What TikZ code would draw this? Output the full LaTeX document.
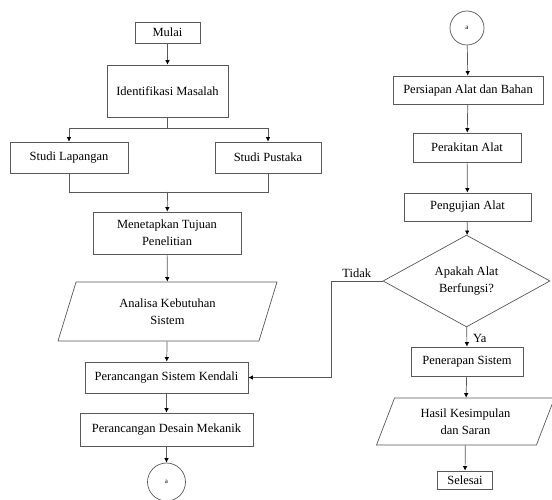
\documentclass[tikz,border=0pt]{standalone}
\usepackage{fontspec}
\setmainfont{Liberation Serif}
\usetikzlibrary{shapes.geometric,arrows.meta}

\begin{document}
\begin{tikzpicture}[x=1pt,y=-1pt,
    every node/.style={font=\fontsize{12.5}{17}\selectfont, align=center, inner sep=0pt},
    proses/.style={draw=linegray, line width=0.7pt, rectangle},
    dataio/.style={draw=linegray, line width=0.7pt, trapezium,
        trapezium left angle=55, trapezium right angle=125, trapezium stretches body},
    keputusan/.style={draw=linegray, line width=0.7pt, diamond},
    konektor/.style={draw=linegray, line width=0.7pt, circle, font=\fontsize{7}{8}\selectfont},
    panah/.style={draw=linegray, line width=0.7pt, -{Latex[length=4.5pt,width=4.5pt,color=black]}},
    garis/.style={draw=linegray, line width=0.7pt}]
    \colorlet{linegray}{black!65}

    \useasboundingbox[fill=white] (0,0) rectangle (552,500);

    % left column
    \node[proses, minimum width=65, minimum height=21] (mulai) at (167.5,32.5) {Mulai};
    \node[proses, minimum width=121, minimum height=52] (identifikasi) at (167.5,91) {Identifikasi Masalah};
    \node[proses, minimum width=118, minimum height=31] (lapangan) at (69,157.5) {Studi Lapangan};
    \node[proses, minimum width=106, minimum height=31] (pustaka) at (268,157.5) {Studi Pustaka};
    \node[proses, minimum width=148, minimum height=42] (tujuan) at (167,233) {Menetapkan Tujuan\\Penelitian};
    \node[dataio, minimum width=219, minimum height=59] (analisa) at (167.5,311.5) {Analisa Kebutuhan\\Sistem};
    \node[proses, minimum width=163, minimum height=31] (kendali) at (166.5,377.5) {Perancangan Sistem Kendali};
    \node[proses, minimum width=173, minimum height=33] (mekanik) at (166.5,429.5) {Perancangan Desain Mekanik};
    \node[konektor, minimum size=38] (konA) at (166.5,482) {a};

    % right column
    \node[konektor, minimum size=34] (konB) at (467,28) {a};
    \node[proses, minimum width=150, minimum height=28] (persiapan) at (468,90) {Persiapan Alat dan Bahan};
    \node[proses, minimum width=108, minimum height=29] (perakitan) at (467,147.5) {Perakitan Alat};
    \node[proses, minimum width=127, minimum height=28] (pengujian) at (467.5,207) {Pengujian Alat};
    \node[keputusan, minimum width=167, minimum height=74] (berfungsi) at (466.5,281) {Apakah Alat\\Berfungsi?};
    \node[proses, minimum width=112, minimum height=29] (penerapan) at (467,361.5) {Penerapan Sistem};
    \node[dataio, minimum width=178, minimum height=47] (hasil) at (465.5,421.5) {Hasil Kesimpulan\\dan Saran};
    \node[proses, minimum width=55, minimum height=18] (selesai) at (465,480) {Selesai};

    % branch and merge of the two studies
    \coordinate (cabang) at (167.5,128);
    \coordinate (gabung) at (167.5,192);
    \draw[panah] (mulai) -- (identifikasi);
    \draw[garis] (identifikasi) -- (cabang);
    \draw[panah] (cabang) -| (lapangan);
    \draw[panah] (cabang) -| (pustaka);
    \draw[garis] (lapangan) |- (gabung);
    \draw[garis] (pustaka) |- (gabung);
    \draw[panah] (gabung) -- (tujuan);
    \draw[panah] (tujuan) -- (analisa);
    \draw[panah] (analisa) -- (kendali);
    \draw[panah] (kendali) -- (mekanik);
    \draw[panah] (mekanik) -- (konA);

    % right flow
    \draw[panah] (konB) -- (persiapan);
    \draw[panah] (persiapan) -- (perakitan);
    \draw[panah] (perakitan) -- (pengujian);
    \draw[panah] (pengujian) -- (berfungsi);
    \draw[panah] (berfungsi) -- node[anchor=west, xshift=6pt, pos=0.6] {Ya} (penerapan);
    \draw[panah] (penerapan) -- (hasil);
    \draw[panah] (hasil) -- (selesai);

    % loop back when it fails
    \coordinate (belok) at (331,377.5);
    \draw[panah] (berfungsi.west) -| node[above=3pt, pos=0.25] {Tidak} (belok) -- (kendali.east);
\end{tikzpicture}
\end{document}
